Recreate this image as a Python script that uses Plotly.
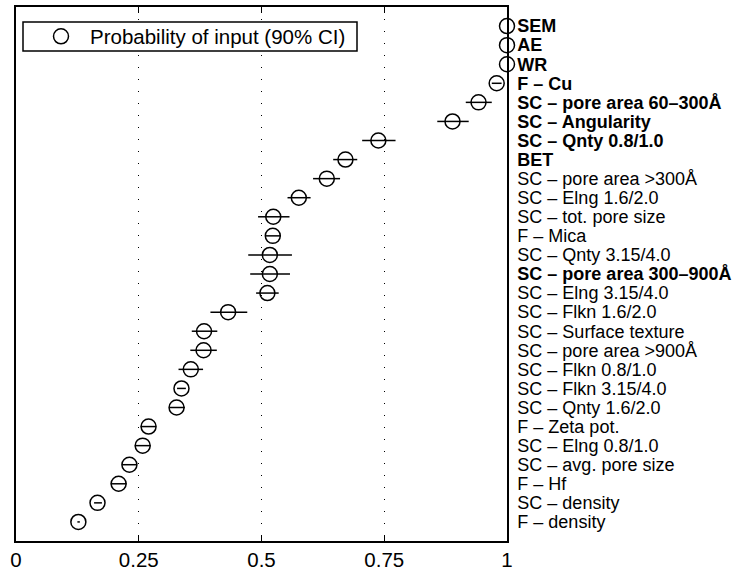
import plotly.graph_objects as go

labels = [
    "SEM", "AE", "WR", "F – Cu", "SC – pore area 60–300Å", "SC – Angularity",
    "SC – Qnty 0.8/1.0", "BET", "SC – pore area >300Å", "SC – Elng 1.6/2.0",
    "SC – tot. pore size", "F – Mica", "SC – Qnty 3.15/4.0",
    "SC – pore area 300–900Å", "SC – Elng 3.15/4.0", "SC – Flkn 1.6/2.0",
    "SC – Surface texture", "SC – pore area >900Å", "SC – Flkn 0.8/1.0",
    "SC – Flkn 3.15/4.0", "SC – Qnty 1.6/2.0", "F – Zeta pot.",
    "SC – Elng 0.8/1.0", "SC – avg. pore size", "F – Hf", "SC – density",
    "F – density",
]
bold = [
    "SEM", "AE", "WR", "F – Cu", "SC – pore area 60–300Å", "SC – Angularity",
    "SC – Qnty 0.8/1.0", "BET", "SC – pore area 300–900Å",
]
prob = [1.0, 1.0, 1.0, 0.979, 0.942, 0.889, 0.738, 0.671, 0.633, 0.576,
        0.524, 0.523, 0.517, 0.517, 0.512, 0.432, 0.383, 0.382, 0.356,
        0.337, 0.327, 0.270, 0.258, 0.231, 0.209, 0.166, 0.127]
ci_low = [1.0, 1.0, 1.0, 0.969, 0.916, 0.858, 0.705, 0.646, 0.605, 0.553,
          0.493, 0.509, 0.473, 0.477, 0.489, 0.396, 0.358, 0.355, 0.331,
          0.328, 0.312, 0.254, 0.242, 0.216, 0.193, 0.159, 0.125]
ci_high = [1.0, 1.0, 1.0, 0.989, 0.969, 0.922, 0.773, 0.695, 0.660, 0.600,
           0.557, 0.539, 0.562, 0.558, 0.535, 0.471, 0.410, 0.409, 0.381,
           0.346, 0.344, 0.285, 0.274, 0.246, 0.225, 0.175, 0.130]
xticks = [0, 0.25, 0.5, 0.75, 1]
xticklabels = ["0", "0.25", "0.5", "0.75", "1"]

n = len(labels)
ypos = [n - i for i in range(n)]
err_plus = [h - p for h, p in zip(ci_high, prob)]
err_minus = [p - l for p, l in zip(prob, ci_low)]
ticktext = [f"<b>{l}</b>" if l in bold else l for l in labels]

FONT = "Liberation Sans, Arial, Helvetica, sans-serif"

W, H = 742, 574
ML, MR, MT, MB = 16, 235, 7, 33
PW, PH = W - ML - MR, H - MT - MB


def px_to_paper_x(px):
    return (px - ML) / PW


def px_to_paper_y(py):
    return 1 - (py - MT) / PH


fig = go.Figure()
fig.add_trace(go.Scatter(
    x=prob, y=ypos, mode="markers", name="Probability of input (90% CI)",
    marker=dict(symbol="circle-open", size=15, color="black",
                line=dict(width=1.5, color="black")),
    error_x=dict(type="data", symmetric=False, array=err_plus,
                 arrayminus=err_minus, color="black", thickness=1.5, width=0),
    cliponaxis=False,
))

# legend frame (white box behind the legend entry)
fig.add_shape(type="rect", xref="paper", yref="paper",
              x0=px_to_paper_x(23), x1=px_to_paper_x(357),
              y0=px_to_paper_y(51), y1=px_to_paper_y(22),
              line=dict(color="black", width=1.5), fillcolor="white",
              layer="above")

fig.update_layout(
    width=W, height=H,
    margin=dict(l=ML, r=MR, t=MT, b=MB, autoexpand=False),
    paper_bgcolor="white", plot_bgcolor="white",
    font=dict(family=FONT, color="black"),
    showlegend=True,
    legend=dict(x=px_to_paper_x(32), y=px_to_paper_y(36.5),
                xanchor="left", yanchor="middle",
                borderwidth=0, bgcolor="rgba(0,0,0,0)",
                font=dict(size=20.5, family=FONT, color="black"),
                itemwidth=48),
    xaxis=dict(range=[0, 1], tickvals=xticks, ticktext=xticklabels,
               ticks="inside", ticklen=6, tickwidth=1, tickcolor="black",
               showline=True, linecolor="black", linewidth=1.5,
               mirror="allticks", showgrid=True, gridcolor="black",
               gridwidth=1, griddash="1px,11px", zeroline=False,
               ticklabelstandoff=0, automargin=False,
               tickfont=dict(size=20.5, family=FONT, color="black")),
    yaxis=dict(range=[0, n + 1], tickvals=ypos, ticktext=ticktext,
               side="right", ticks="", showgrid=False, zeroline=False,
               showline=True, linecolor="black", linewidth=1.5, mirror=True,
               ticklabelstandoff=5, automargin=False,
               tickfont=dict(size=18, family=FONT, color="black")),
)

fig.write_html("out.html")
